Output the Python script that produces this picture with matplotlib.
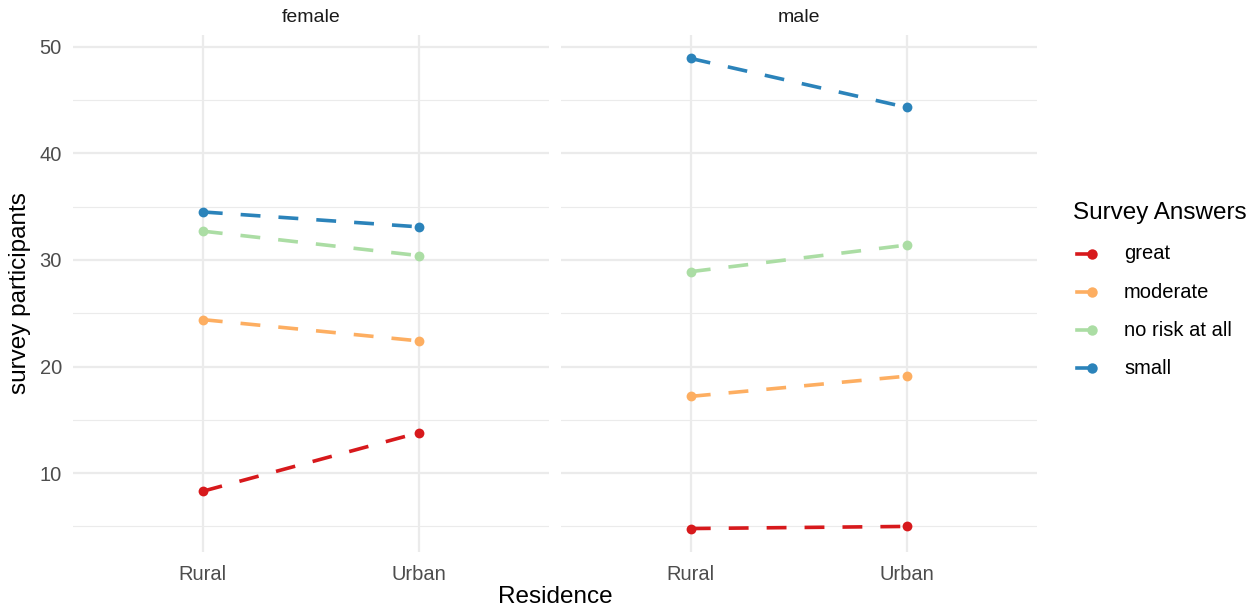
import matplotlib
matplotlib.use("Agg")
import matplotlib.pyplot as plt
from matplotlib.lines import Line2D

plt.rcParams['font.family'] = ['Liberation Sans', 'DejaVu Sans']

residence = ["Rural", "Urban"]
genders = ["female", "male"]
answers = ["great", "moderate", "no risk at all", "small"]
colors = ["#D7191C", "#FDAE61", "#ABDDA4", "#2B83BA"]

female_great = [8.3, 13.8]
female_moderate = [24.4, 22.4]
female_norisk = [32.7, 30.4]
female_small = [34.5, 33.1]

male_great = [4.8, 5.0]
male_moderate = [17.2, 19.1]
male_norisk = [28.9, 31.4]
male_small = [48.9, 44.3]

data = {
    "female": [female_great, female_moderate, female_norisk, female_small],
    "male": [male_great, male_moderate, male_norisk, male_small],
}

W, H = 1260, 611
fig = plt.figure(figsize=(W / 100, H / 100), dpi=100)

panels = [(73, 549), (561, 1037)]
ytop, ybot = 35, 552
ymin, ymax = 2.6, 51.1

axes = []
for (x0, x1), g in zip(panels, genders):
    ax = fig.add_axes([x0 / W, (H - ybot) / H, (x1 - x0) / W, (ybot - ytop) / H])
    axes.append(ax)
    ax.set_xlim(0.4, 2.6)
    ax.set_ylim(ymin, ymax)
    for s in ax.spines.values():
        s.set_visible(False)
    for yv in [10, 20, 30, 40, 50]:
        ax.axhline(yv, color="#EBEBEB", lw=1.6, zorder=0)
    for yv in [5, 15, 25, 35, 45]:
        ax.axhline(yv, color="#EBEBEB", lw=0.8, zorder=0)
    for xv in [1, 2]:
        ax.axvline(xv, color="#EBEBEB", lw=1.6, zorder=0)
    xs = [1, 2]
    for vals, c in zip(data[g], colors):
        ax.plot(xs, vals, color=c, lw=2.6, dashes=(5.5, 5), zorder=2)
        ax.scatter(xs, vals, color=c, s=50, zorder=3, linewidths=0)
    ax.set_xticks(xs)
    ax.set_xticklabels(residence)
    ax.set_yticks([10, 20, 30, 40, 50])
    ax.tick_params(axis="x", length=0, labelsize=14.5, labelcolor="#4D4D4D", pad=9)
    ax.tick_params(axis="y", length=0, labelsize=14.5, labelcolor="#4D4D4D", pad=8)
    ax.set_title(g, fontsize=14, color="#1A1A1A", pad=9.5)

axes[1].set_yticklabels([])
fig.text(20 / W, 1 - 293 / H, "survey participants", fontsize=17.5, rotation=90,
         ha="center", va="center")
fig.text((73 + 1037) / 2 / W, 1 - 597 / H, "Residence", fontsize=17.5, ha="center", va="center")

# legend
fig.text(1073 / W, 1 - 213 / H, "Survey Answers", fontsize=17.5, ha="left", va="center")
ys = [254, 292, 330, 368]
for yv, a, c in zip(ys, answers, colors):
    fy = 1 - yv / H
    fig.add_artist(Line2D([1077 / W, 1094 / W], [fy, fy], color=c, lw=2.6, transform=fig.transFigure))
    fig.add_artist(Line2D([1092 / W], [fy], color=c, marker="o", markersize=7.5, markeredgewidth=0, transform=fig.transFigure))
    fig.text(1124 / W, fy, a, fontsize=14.5, ha="left", va="center")

fig.savefig("out.png", dpi=100)
